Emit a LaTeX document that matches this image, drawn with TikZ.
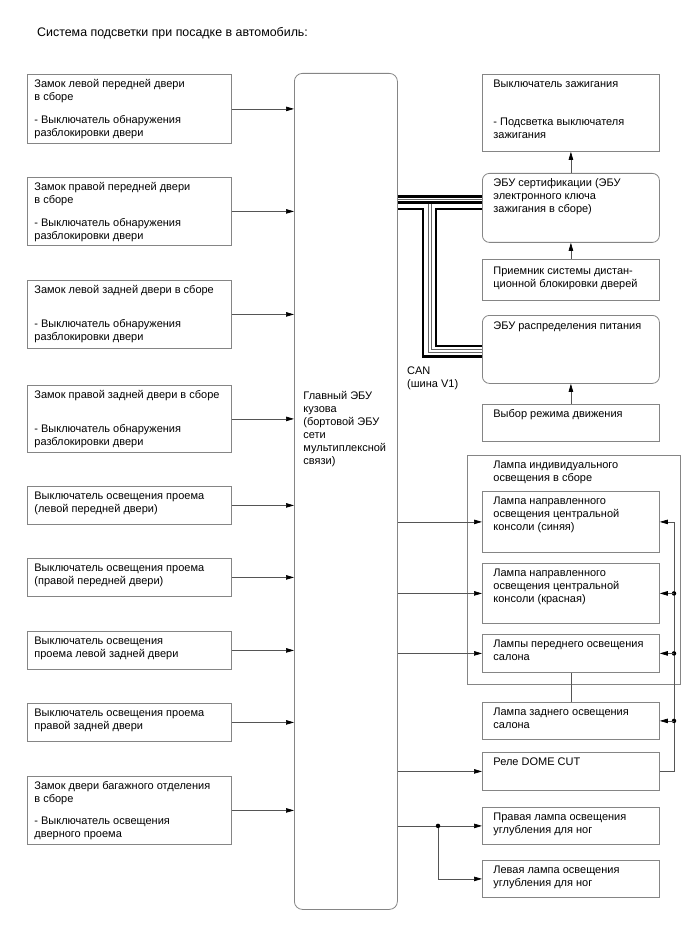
\documentclass[tikz,border=0pt]{standalone}
\usepackage{fontspec}
\setmainfont{Liberation Sans}
\usepackage{xcolor}
\usepackage{tikz}
\usetikzlibrary{calc, positioning, arrows.meta}
\definecolor{frameGray}{HTML}{858585}
\definecolor{wireGray}{HTML}{555555}

\tikzset{
  unit/.style={draw=frameGray, line width=0.8pt, anchor=north west, inner xsep=7pt,
               inner ysep=4pt, fill=white, font=\fontsize{11}{13}\selectfont},
  runit/.style={unit, inner xsep=11pt},
  ecu/.style={runit, rounded corners=7pt},
  arr/.style={draw=wireGray, line width=0.7pt, -{Triangle[length=8pt,width=4.5pt,black]}},
  wire/.style={draw=wireGray, line width=0.7pt},
  canwire/.style={line width=2.7pt, black},
  canthin/.style={line width=0.8pt, black!60},
  dot/.style={circle, fill=black, inner sep=0pt, minimum size=4.5pt},
}
% text block of a unit: [space above], width, height, lines
\newcommand{\boxtext}[4][0pt]{\begin{minipage}[t][#3pt][t]{#2pt}\raggedright\vspace*{#1}\strut#4\end{minipage}}

\begin{document}
\begin{tikzpicture}[x=1pt, y=-1pt]
    \useasboundingbox (0,0) rectangle (688,949);

    \node[anchor=west, inner sep=0pt, font=\fontsize{12.4}{14}\selectfont] (title) at (37,33)
        {Система подсветки при посадке в автомобиль:};

    % switches on the left
    \node[unit] (lfl) at (27,74)  {\boxtext{190}{61}{Замок левой передней двери\\в сборе\\[10pt]- Выключатель обнаружения\\разблокировки двери}};
    \node[unit] (rfl) at (27,177) {\boxtext{190}{60}{Замок правой передней двери\\в сборе\\[10pt]- Выключатель обнаружения\\разблокировки двери}};
    \node[unit] (lrl) at (27,280) {\boxtext{190}{60}{Замок левой задней двери в сборе\\[21pt]- Выключатель обнаружения\\разблокировки двери}};
    \node[unit] (rrl) at (27,385) {\boxtext{190}{59}{Замок правой задней двери в сборе\\[21pt]- Выключатель обнаружения\\разблокировки двери}};
    \node[unit] (lfs) at (27,486) {\boxtext{190}{30}{Выключатель освещения проема\\(левой передней двери)}};
    \node[unit] (rfs) at (27,558) {\boxtext{190}{30}{Выключатель освещения проема\\(правой передней двери)}};
    \node[unit] (lrs) at (27,631) {\boxtext{190}{30}{Выключатель освещения\\проема левой задней двери}};
    \node[unit] (rrs) at (27,703) {\boxtext{190}{30}{Выключатель освещения проема\\правой задней двери}};
    \node[unit] (trunk) at (27,776) {\boxtext{190}{60}{Замок двери багажного отделения\\в сборе\\[9pt]- Выключатель освещения\\дверного проема}};

    % main body ECU
    \node[unit, rounded corners=8pt, inner xsep=9pt] (main) at (294,73)
        {\boxtext[313pt]{85}{828}{Главный ЭБУ\\кузова\\(бортовой ЭБУ\\сети\\мультиплексной\\связи)}};

    % units on the right
    \node[runit] (ign)  at (482,74)  {\boxtext{155}{69}{Выключатель зажигания\\[25pt]- Подсветка выключателя\\зажигания}};
    \node[ecu]   (cert) at (482,173) {\boxtext{155}{61}{ЭБУ сертификации (ЭБУ\\электронного ключа\\зажигания в сборе)}};
    \node[runit] (recv) at (482,259) {\boxtext[2pt]{155}{33}{Приемник системы дистан-\\ционной блокировки дверей}};
    \node[ecu]   (pdu)  at (482,315) {\boxtext[1pt]{155}{60}{ЭБУ распределения питания}};
    \node[runit] (drv)  at (482,404) {\boxtext{155}{29}{Выбор режима движения}};

    \node[runit, inner xsep=26pt] (group) at (467,455) {\boxtext{161}{221}{Лампа индивидуального\\освещения в сборе}};
    \node[runit] (blue)  at (482,491) {\boxtext{155}{53}{Лампа направленного\\освещения центральной\\консоли (синяя)}};
    \node[runit] (red)   at (482,563) {\boxtext{155}{52}{Лампа направленного\\освещения центральной\\консоли (красная)}};
    \node[runit] (front) at (482,634) {\boxtext{155}{30}{Лампы переднего освещения\\салона}};
    \node[runit] (rear)  at (482,702) {\boxtext{155}{29}{Лампа заднего освещения\\салона}};
    \node[runit] (dome)  at (482,752) {\boxtext{155}{30}{Реле DOME CUT}};
    \node[runit] (rfoot) at (482,807) {\boxtext{155}{29}{Правая лампа освещения\\углубления для ног}};
    \node[runit] (lfoot) at (482,860) {\boxtext{155}{29}{Левая лампа освещения\\углубления для ног}};

    % inputs
    \foreach \n in {lfl,rfl,lrl,rrl,lfs,rfs,lrs,rrs,trunk}
        \draw[arr] (\n.east) -- (\n.east -| main.west);

    \draw[arr] (cert.north) -- (ign.south);
    \draw[arr] (recv.north) -- (cert.south);
    \draw[arr] (drv.north) -- (pdu.south);

    % CAN bus
    \draw[canwire] (main.east |- 0,196.7) -- (cert.west |- 0,196.7);
    \draw[canthin] (main.east |- 0,199.6) -- (cert.west |- 0,199.6);
    \draw[canwire] (main.east |- 0,202.6) -- (cert.west |- 0,202.6);
    \draw[canwire] (main.east |- 0,209) -| (423,356.5) -- (pdu.west |- 0,356.5);
    \draw[canwire] (cert.west |- 0,209) -| (436,346) -- (pdu.west |- 0,346);
    \draw[canthin] (428.6,204) |- (pdu.west |- 0,352.2);
    \draw[canthin] (431.4,204) |- (pdu.west |- 0,349.6);
    \node[anchor=north west, inner sep=0pt, align=left, font=\fontsize{11}{12.5}\selectfont]
        (canlbl) at (407,367) {CAN\\(шина V1)};

    % outputs
    \foreach \n in {blue,red,front,dome,rfoot}
        \draw[arr] (main.east |- \n.west) -- (\n.west);
    \node[dot] (jn) at (438,0 |- rfoot.west) {};
    \draw[arr] (jn) |- (lfoot.west);
    \draw[wire] (front.south) -- (rear.north);

    % DOME CUT return line
    \draw[arr] (dome.east) -| (674,0 |- blue.east) -- (blue.east);
    \foreach \n in {red,front,rear} {
        \node[dot] (dot\n) at (674,0 |- \n.east) {};
        \draw[arr] (dot\n.center) -- (\n.east);
    }
\end{tikzpicture}
\end{document}
